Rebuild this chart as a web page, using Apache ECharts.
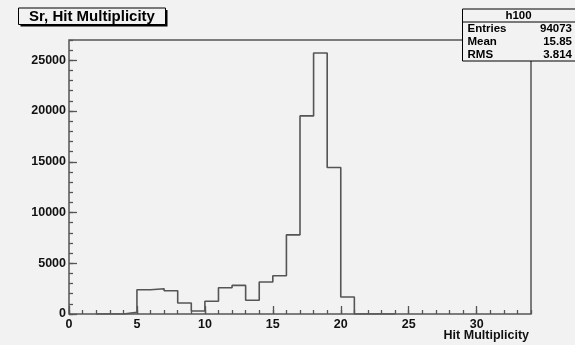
<!DOCTYPE html>
<html>
<head>
<meta charset="utf-8">
<script src="https://cdn.jsdelivr.net/npm/echarts@6/dist/echarts.min.js"></script>
<style>
  html, body { margin: 0; padding: 0; background: #f2f2f2; }
  #chart { width: 575px; height: 345px; }
</style>
</head>
<body>
<div id="chart"></div>
<script>
// Histogram h100: one-unit bins, lower edges and counts
const binLowEdges = [2, 3, 4, 5, 6, 7, 8, 9, 10, 11, 12, 13, 14, 15, 16, 17, 18, 19, 20, 21, 22, 23];
const binCounts   = [0, 0, 180, 2390, 2490, 2290, 1080, 295, 1250, 2590, 2820, 1350, 3150, 3770, 7800, 19520, 25720, 14440, 1670, 0, 0, 0];
const binWidth = 1;

// Axis ranges and tick spacing
const xRange = [0, 34];
const yRange = [0, 27000];
const xMajor = 5, xMinor = 1;
const yMajor = 5000, yMinor = 1000;

// Text blocks
const titleText = 'Sr, Hit Multiplicity';
const xAxisTitle = 'Hit Multiplicity';
const statsName = 'h100';
const statsLabels = ['Entries', 'Mean', 'RMS'];
const statsValues = ['94073', '15.85', '3.814'];

// Outline points for a stepped histogram (step at each bin's right edge)
const outline = binLowEdges.map((x, i) => [x, binCounts[i]]);
outline.push([binLowEdges[binLowEdges.length - 1] + binWidth, binCounts[binCounts.length - 1]]);

const ink = '#555555';
const font = 'Liberation Sans, Arial, Helvetica, sans-serif';
const bg = '#f2f2f2';

const chart = echarts.init(document.getElementById('chart'), null, { renderer: 'canvas' });

const labelStyle = { color: '#111', fontWeight: 'bold', fontSize: 12.5, fontFamily: font };
const plainNumber = v => String(v);

function makeX(interval, tickLen, withLabels) {
  return {
    type: 'value', min: xRange[0], max: xRange[1], interval: interval, position: 'bottom',
    axisLine: { show: false },
    axisTick: { show: true, inside: true, length: tickLen, lineStyle: { color: ink, width: 1.3 } },
    axisLabel: withLabels ? Object.assign({ show: true, margin: 4, showMaxLabel: false, formatter: plainNumber }, labelStyle) : { show: false },
    splitLine: { show: false }
  };
}
function makeY(interval, tickLen, withLabels) {
  return {
    type: 'value', min: yRange[0], max: yRange[1], interval: interval, position: 'left',
    axisLine: { show: false },
    axisTick: { show: true, inside: true, length: tickLen, lineStyle: { color: ink, width: 1.3 } },
    axisLabel: withLabels ? Object.assign({ show: true, margin: 3, showMaxLabel: false, formatter: plainNumber }, labelStyle) : { show: false },
    splitLine: { show: false }
  };
}

const statsTop = 9, statsLeft = 462.5, statsRight = 576, rowH = 13;

const graphics = [
  // title box with drop shadow
  { type: 'rect', shape: { x: 20.5, y: 10, width: 147, height: 16.5 }, style: { fill: '#000' }, silent: true },
  { type: 'rect', shape: { x: 18.5, y: 8, width: 147, height: 16.5 }, style: { fill: bg, stroke: '#000', lineWidth: 1 }, silent: true },
  { type: 'text', x: 92, y: 16.5, style: { text: titleText, fill: '#000', font: 'bold 15px ' + font, textAlign: 'center', textVerticalAlign: 'middle' } },
  // x axis title, right-aligned at the end of the frame
  { type: 'text', x: 529, y: 336, style: { text: xAxisTitle, fill: '#111', font: 'bold 12.5px ' + font, textAlign: 'right', textVerticalAlign: 'middle' } },
  // statistics box
  { type: 'rect', shape: { x: statsLeft, y: statsTop, width: statsRight - statsLeft, height: rowH * 4 }, style: { fill: bg, stroke: '#000', lineWidth: 1 }, silent: true },
  { type: 'line', shape: { x1: statsLeft, y1: statsTop + rowH, x2: statsRight, y2: statsTop + rowH }, style: { stroke: '#000', lineWidth: 1 }, silent: true },
  { type: 'text', x: 518.5, y: statsTop + rowH / 2 + 0.5, style: { text: statsName, fill: '#000', font: 'bold 11.5px ' + font, textAlign: 'center', textVerticalAlign: 'middle' } }
];
statsLabels.forEach((lab, i) => {
  const cy = statsTop + rowH * (i + 1.5) + 0.5;
  graphics.push({ type: 'text', x: statsLeft + 5, y: cy, style: { text: lab, fill: '#000', font: 'bold 11.5px ' + font, textAlign: 'left', textVerticalAlign: 'middle' } });
  graphics.push({ type: 'text', x: 572, y: cy, style: { text: statsValues[i], fill: '#000', font: 'bold 11.5px ' + font, textAlign: 'right', textVerticalAlign: 'middle' } });
});

chart.setOption({
  backgroundColor: bg,
  animation: false,
  grid: { left: 69, right: 44, top: 40, bottom: 31, show: true, borderColor: ink, borderWidth: 1.5, backgroundColor: 'transparent' },
  xAxis: [makeX(xMajor, 8, true), makeX(xMinor, 4, false)],
  yAxis: [makeY(yMajor, 8, true), makeY(yMinor, 4, false)],
  series: [{
    type: 'line',
    step: 'end',
    data: outline,
    showSymbol: false,
    symbol: 'none',
    lineStyle: { color: ink, width: 1.6 },
    z: 3
  }],
  graphic: graphics
});
</script>
</body>
</html>
